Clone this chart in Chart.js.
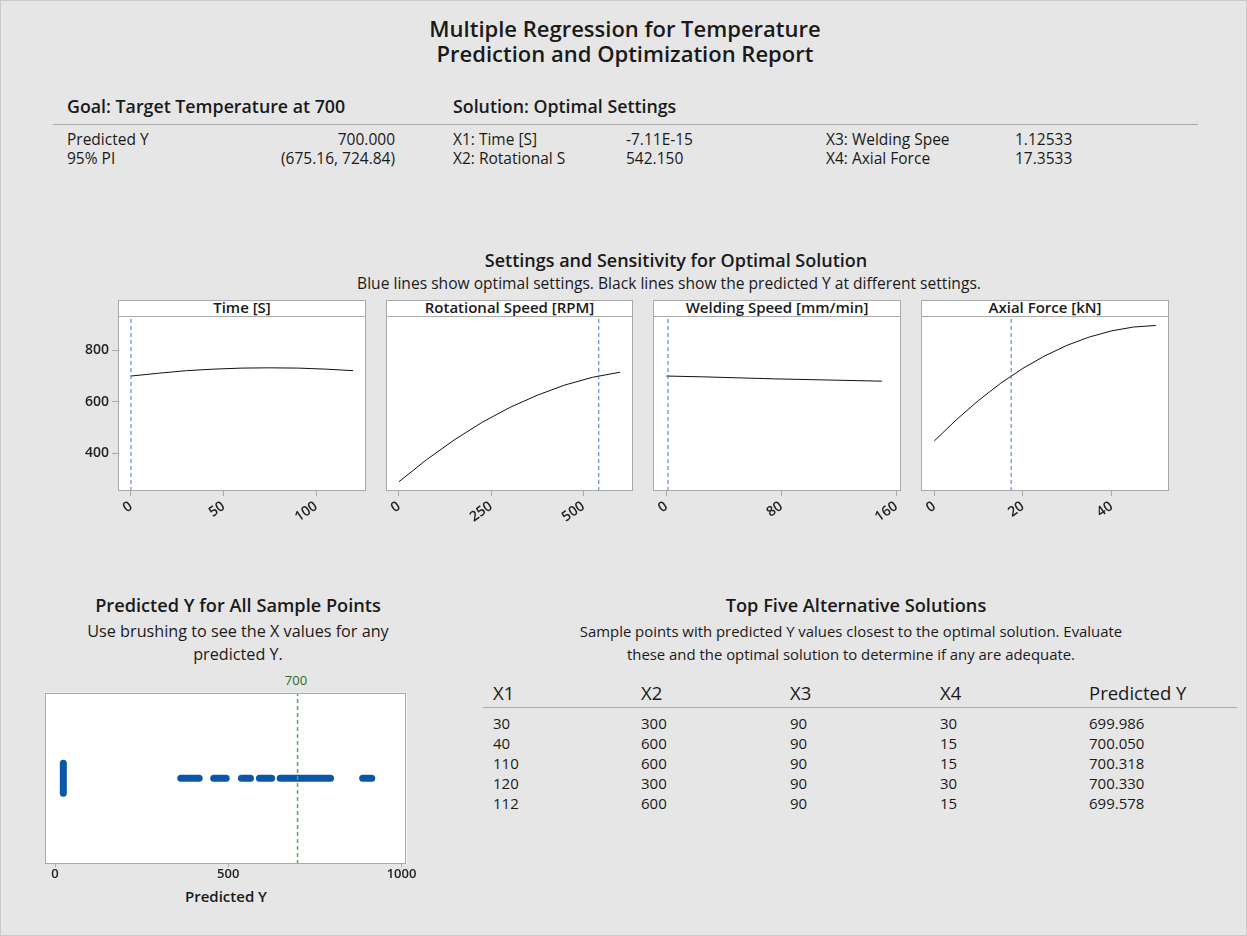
<!DOCTYPE html>
<html>
<head>
<meta charset="UTF-8">
<title>Multiple Regression for Temperature</title>
<script src="https://cdn.jsdelivr.net/npm/chart.js@4.4.0/dist/chart.umd.min.js"></script>
<style>
    body { margin: 0; font-family: 'Open Sans', sans-serif; color: #1a1a1a; }
    #page { position: relative; width: 1247px; height: 936px; background: #e6e6e6; border: 1px solid #c9c9c9; box-sizing: border-box; overflow: hidden; }
    .t { position: absolute; white-space: nowrap; font-size: 15.5px; line-height: 19px; }
    .c { transform: translateX(-50%); text-align: center; }
    .b { font-weight: 600; }
    .r { text-align: right; }
    .rule { position: absolute; height: 1px; background: #a8a8a8; }
    .hdr { position: absolute; top: 299px; height: 17px; background: #fff; border: 1px solid #a9a9a9; box-sizing: border-box; font-weight: 600; font-size: 15px; line-height: 13px; text-align: center; white-space: nowrap; }
    canvas { position: absolute; }
    #alt { position: absolute; left: 482px; top: 677px; border-collapse: collapse; font-size: 15px; }
    #alt td { padding: 0 0 0 10px; height: 20px; line-height: 20px; }
    #alt th { padding: 0 0 0 10px; height: 29px; font-weight: 400; font-size: 18.5px; text-align: left; border-bottom: 1px solid #a8a8a8; }
    #alt tr.gap td { height: 5px; line-height: 5px; }
</style>
</head>
<body>
<div id="page">
    <div class="t c b" style="left:624px; top:13px; font-size:22px; line-height:28px;">Multiple Regression for Temperature</div>
    <div class="t c b" style="left:624px; top:38px; font-size:22px; line-height:28px;">Prediction and Optimization Report</div>

    <div class="t b" style="left:66px; top:93px; font-size:17.8px; line-height:24px;">Goal: Target Temperature at 700</div>
    <div class="t b" style="left:452px; top:93px; font-size:17.8px; line-height:24px;">Solution: Optimal Settings</div>
    <div class="rule" style="left:52px; top:123px; width:1145px;"></div>

    <div class="t" style="left:66px; top:129px;">Predicted Y</div>
    <div class="t r" style="left:254px; top:129px; width:140px;">700.000</div>
    <div class="t" style="left:66px; top:148px;">95% PI</div>
    <div class="t r" style="left:254px; top:148px; width:140px;">(675.16, 724.84)</div>

    <div class="t" style="left:452px; top:129px;">X1: Time [S]</div>
    <div class="t" style="left:625px; top:129px;">-7.11E-15</div>
    <div class="t" style="left:452px; top:148px;">X2: Rotational S</div>
    <div class="t" style="left:625px; top:148px;">542.150</div>
    <div class="t" style="left:825px; top:129px;">X3: Welding Spee</div>
    <div class="t" style="left:1014px; top:129px;">1.12533</div>
    <div class="t" style="left:825px; top:148px;">X4: Axial Force</div>
    <div class="t" style="left:1014px; top:148px;">17.3533</div>

    <div class="t c b" style="left:675px; top:247px; font-size:18px; line-height:24px;">Settings and Sensitivity for Optimal Solution</div>
    <div class="t c" style="left:668px; top:273px; font-size:15.6px;">Blue lines show optimal settings. Black lines show the predicted Y at different settings.</div>

    <div class="t c b" style="left:237px; top:592px; font-size:18.2px; line-height:24px;">Predicted Y for All Sample Points</div>
    <div class="t c" style="left:237px; top:619px; font-size:16.2px; line-height:23px;">Use brushing to see the X values for any<br>predicted Y.</div>
    <div class="t c" style="left:295px; top:670px; font-size:13px; color:#2d6a2d;">700</div>
    <div class="t c b" style="left:225px; top:886px; font-size:15px;">Predicted Y</div>

    <div class="t c b" style="left:855px; top:592px; font-size:18.2px; line-height:24px;">Top Five Alternative Solutions</div>
    <div class="t c" style="left:850px; top:619px; font-size:14.9px; line-height:23px;">Sample points with predicted Y values closest to the optimal solution. Evaluate<br>these and the optimal solution to determine if any are adequate.</div>

    <table id="alt"></table>
</div>

<script>
    // curves of predicted Y against each factor, the others held at optimum
    var timeX  = [0, 15, 30, 45, 60, 75, 90, 105, 120];
    var timeY  = [700, 711, 721, 727, 731, 732, 731, 727, 721];
    var rpmX   = [0, 75, 150, 225, 300, 375, 450, 525, 600];
    var rpmY   = [288, 374, 451, 519, 577, 625, 665, 695, 715];
    var weldX  = [0, 25, 50, 75, 100, 125, 150];
    var weldY  = [700, 697, 693, 689, 686, 683, 680];
    var forceX = [0, 5, 10, 15, 20, 25, 30, 35, 40, 45, 50];
    var forceY = [447, 530, 605, 672, 730, 779, 820, 852, 876, 891, 897];

    var optimal    = [-7.11e-15, 542.150, 1.12533, 17.3533];
    var panelNames = ["Time [S]", "Rotational Speed [RPM]", "Welding Speed [mm/min]", "Axial Force [kN]"];
    var xTicks     = [[0, 50, 100], [0, 250, 500], [0, 80, 160], [0, 20, 40]];
    var xRanges    = [[-7, 127], [-35, 635], [-9.3, 163.3], [-3, 53]];
    var yTicks     = [400, 600, 800];
    var yRange     = [252, 934];

    // predicted Y of the sample points
    var targetY    = 700;
    var lowCluster = 24;
    var predRuns   = [[363, 416], [458, 494], [538, 564], [590, 625], [650, 795], [888, 914]];
    var dotTicks   = [0, 500, 1000];

    // alternative solutions table
    var altHead = ["X1", "X2", "X3", "X4", "Predicted Y"];
    var altX1 = [30, 40, 110, 120, 112];
    var altX2 = [300, 600, 600, 300, 600];
    var altX3 = [90, 90, 90, 90, 90];
    var altX4 = [30, 15, 15, 30, 15];
    var altY  = ["699.986", "700.050", "700.318", "700.330", "699.578"];

    Chart.defaults.font.family = "'Open Sans', sans-serif";
    Chart.defaults.color = "#1a1a1a";

    var page = document.getElementById("page");

    // white plot area + grey frame
    var framePlugin = {
        id: "frame",
        beforeDraw: function(chart) {
            var a = chart.chartArea, ctx = chart.ctx;
            ctx.save();
            ctx.fillStyle = "#ffffff";
            ctx.fillRect(a.left, a.top, a.right - a.left, a.bottom - a.top);
            ctx.restore();
        },
        afterDraw: function(chart) {
            var a = chart.chartArea, ctx = chart.ctx;
            ctx.save();
            ctx.strokeStyle = "#a9a9a9";
            ctx.lineWidth = 1;
            ctx.strokeRect(Math.round(a.left) + 0.5, Math.round(a.top) + 0.5,
                           Math.round(a.right - a.left) - 1, Math.round(a.bottom - a.top) - 1);
            ctx.restore();
        }
    };

    function addCanvas(left, top, w, h) {
        var cv = document.createElement("canvas");
        cv.width = w; cv.height = h;
        cv.style.left = left + "px"; cv.style.top = top + "px";
        cv.style.width = w + "px"; cv.style.height = h + "px";
        page.appendChild(cv);
        return cv;
    }

    function setTicks(vals) {
        return function(scale) { scale.ticks = vals.map(function(v) { return { value: v }; }); };
    }

    var curvesX = [timeX, rpmX, weldX, forceX];
    var curvesY = [timeY, rpmY, weldY, forceY];
    var boxes = [[117, 365], [385, 632], [652, 900], [920, 1168]];

    for (var i = 0; i < 4; i++) {
        var L = boxes[i][0], R = boxes[i][1];

        var hdr = document.createElement("div");
        hdr.className = "hdr";
        hdr.style.left = L + "px";
        hdr.style.width = (R - L) + "px";
        hdr.textContent = panelNames[i];
        page.appendChild(hdr);

        var cv = addCanvas(L - 60, 310, R - L + 70, 230);
        var pts = curvesX[i].map(function(x, k) { return { x: x, y: curvesY[i][k] }; });
        var first = (i === 0);

        new Chart(cv, {
            type: "scatter",
            data: {
                datasets: [
                    {
                        data: [{ x: optimal[i], y: yRange[0] }, { x: optimal[i], y: yRange[1] }],
                        showLine: true, borderColor: "#4b6fd6", borderWidth: 1,
                        borderDash: [4, 3], pointRadius: 0
                    },
                    {
                        data: pts, showLine: true, borderColor: "#111111",
                        borderWidth: 1, pointRadius: 0, tension: 0
                    }
                ]
            },
            options: {
                responsive: false, animation: false,
                layout: { padding: { top: 5, right: 10, left: 0, bottom: 0 } },
                plugins: { legend: { display: false }, tooltip: { enabled: false } },
                scales: {
                    x: {
                        type: "linear", min: xRanges[i][0], max: xRanges[i][1],
                        afterBuildTicks: setTicks(xTicks[i]),
                        afterFit: function(s) { s.height = 50; s.paddingLeft = 0; s.paddingRight = 0; },
                        grid: { drawOnChartArea: false, tickLength: 5, color: "#a9a9a9" },
                        border: { display: false },
                        ticks: {
                            minRotation: 35, maxRotation: 35, padding: 2,
                            font: { size: 14, weight: 600 }, color: "#222",
                            callback: function(v) { return String(v); }
                        }
                    },
                    y: {
                        type: "linear", min: yRange[0], max: yRange[1],
                        afterBuildTicks: setTicks(yTicks),
                        afterFit: function(s) { s.width = 60; s.paddingTop = 0; s.paddingBottom = 0; },
                        grid: { drawOnChartArea: false, drawTicks: first, tickLength: 6, color: "#a9a9a9" },
                        border: { display: false },
                        ticks: {
                            display: first, padding: 3,
                            font: { size: 14, weight: 600 }, color: "#222",
                            callback: function(v) { return String(v); }
                        }
                    }
                }
            },
            plugins: [framePlugin]
        });
    }

    // dot plot of predicted Y
    var dotSets = [
        {
            data: [{ x: targetY, y: -1 }, { x: targetY, y: 1 }],
            showLine: true, borderColor: "#4cb050", borderWidth: 1.5,
            borderDash: [4, 3], pointRadius: 0
        },
        {
            data: [{ x: lowCluster, y: -0.175 }, { x: lowCluster, y: 0.175 }],
            showLine: true, borderColor: "#0a56a8", borderWidth: 7,
            borderCapStyle: "round", pointRadius: 0
        }
    ];
    predRuns.forEach(function(run) {
        dotSets.push({
            data: [{ x: run[0], y: 0 }, { x: run[1], y: 0 }],
            showLine: true, borderColor: "#0a56a8", borderWidth: 7,
            borderCapStyle: "round", pointRadius: 0
        });
    });

    var dotCv = addCanvas(20, 680, 400, 230);
    new Chart(dotCv, {
        type: "scatter",
        data: { datasets: dotSets },
        options: {
            responsive: false, animation: false,
            layout: { padding: { top: 11.7, right: 14.3, left: 24.3, bottom: 0 } },
            plugins: { legend: { display: false }, tooltip: { enabled: false } },
            scales: {
                x: {
                    type: "linear", min: -28, max: 1015,
                    afterBuildTicks: setTicks(dotTicks),
                    afterFit: function(s) { s.height = 47; s.paddingLeft = 0; s.paddingRight = 0; },
                    grid: { drawOnChartArea: false, tickLength: 3, color: "#a9a9a9" },
                    border: { display: false },
                    ticks: {
                        maxRotation: 0, minRotation: 0, padding: -1,
                        font: { size: 13, weight: 600 }, color: "#222",
                        callback: function(v) { return String(v); }
                    }
                },
                y: { display: false, min: -1, max: 1 }
            }
        },
        plugins: [framePlugin]
    });

    // alternative solutions table
    var tbl = document.getElementById("alt");
    var widths = [148, 149, 150, 149, 158];
    var html = "<tr>" + altHead.map(function(h, k) {
        return '<th style="width:' + (widths[k] - 10) + 'px">' + h + "</th>";
    }).join("") + "</tr>";
    html += '<tr class="gap"><td></td><td></td><td></td><td></td><td></td></tr>';
    for (var r = 0; r < altY.length; r++) {
        html += "<tr><td>" + altX1[r] + "</td><td>" + altX2[r] + "</td><td>" + altX3[r] +
                "</td><td>" + altX4[r] + "</td><td>" + altY[r] + "</td></tr>";
    }
    tbl.innerHTML = html;
</script>
</body>
</html>
